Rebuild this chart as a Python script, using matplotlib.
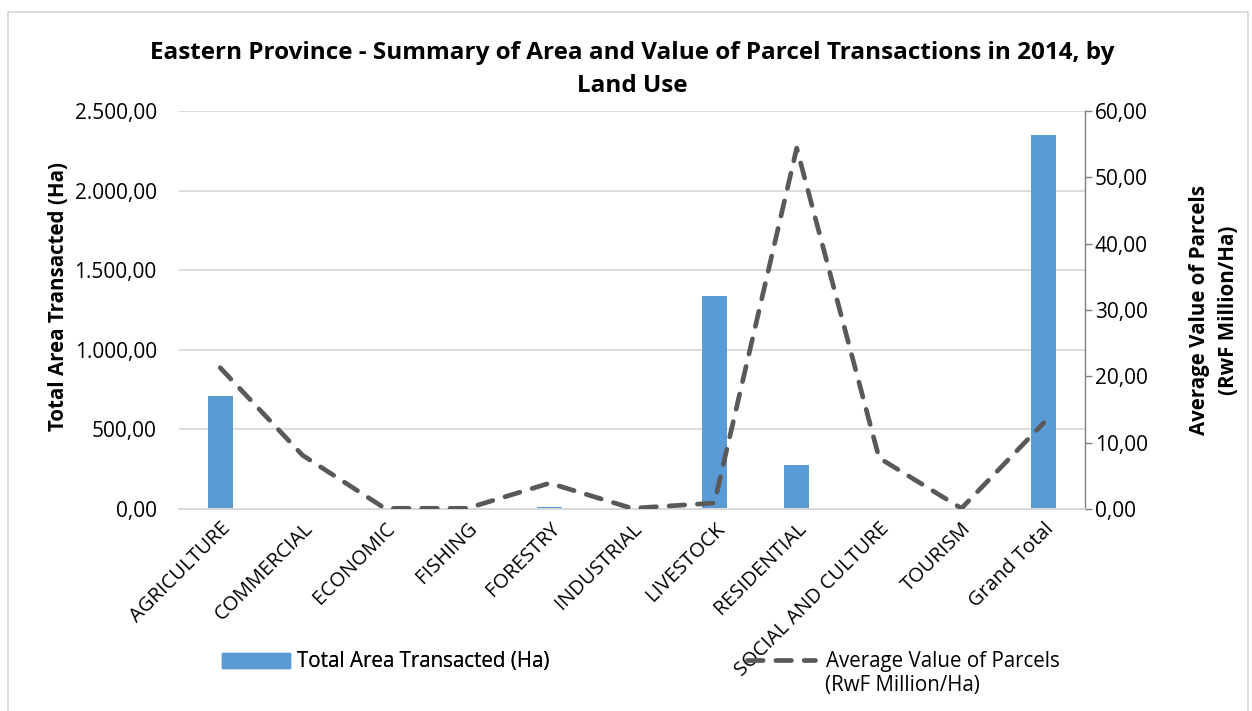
import matplotlib
matplotlib.use("Agg")
import matplotlib.pyplot as plt
from matplotlib.patches import Patch, Rectangle
from matplotlib.lines import Line2D
from matplotlib.ticker import FuncFormatter, MultipleLocator

plt.rcParams["font.family"] = ["Open Sans", "DejaVu Sans"]

categories = ["AGRICULTURE", "COMMERCIAL", "ECONOMIC", "FISHING", "FORESTRY",
              "INDUSTRIAL", "LIVESTOCK", "RESIDENTIAL", "SOCIAL AND CULTURE",
              "TOURISM", "Grand Total"]
area_ha = [710, 8, 0, 0, 15, 0, 1338, 276, 0, 0, 2352]
avg_value = [21.3, 8.1, 0.1, 0.1, 3.9, 0.1, 0.9, 54.4, 7.7, 0.1, 13.0]

bar_color = "#5B9BD5"
line_color = "#595959"
grid_color = "#D9D9D9"
dash = (0, (3.3, 2.7))


def euro_fmt(v, pos):
    s = f"{v:,.2f}"
    return s.replace(",", "X").replace(".", ",").replace("X", ".")


fig = plt.figure(figsize=(12.52, 7.11), dpi=100)
ax = fig.add_axes([179 / 1252, 1 - 509 / 711, 906 / 1252, 398 / 711])
ax2 = ax.twinx()

x = range(len(categories))
ax.bar(x, area_ha, width=0.30, color=bar_color, zorder=2)
ax2.plot(x, avg_value, color=line_color, lw=3.4, linestyle=dash,
         dash_capstyle="round", zorder=3)

ax.set_xlim(-0.5, len(categories) - 0.5)
ax.set_ylim(0, 2500)
ax2.set_ylim(0, 60)
ax.yaxis.set_major_locator(MultipleLocator(500))
ax2.yaxis.set_major_locator(MultipleLocator(10))
ax.yaxis.set_major_formatter(FuncFormatter(euro_fmt))
ax2.yaxis.set_major_formatter(FuncFormatter(euro_fmt))

ax.grid(axis="y", color=grid_color, lw=1.3, zorder=0)
ax.set_axisbelow(True)
for a in (ax, ax2):
    for side in ("top", "left", "right"):
        a.spines[side].set_visible(False)
    a.spines["bottom"].set_color(grid_color)
    a.spines["bottom"].set_linewidth(1.3)
ax2.spines["right"].set_visible(True)
ax2.spines["right"].set_color("#808080")
ax2.spines["right"].set_linewidth(1)

ax.tick_params(axis="y", length=0, labelsize=15, pad=16)
ax2.tick_params(axis="y", length=5, width=1, color="#808080", labelsize=15, pad=2)
ax.tick_params(axis="x", length=0, pad=7)

ax.set_xticks(list(x))
ax.set_xticklabels(categories, rotation=45, ha="right", va="top",
                   rotation_mode="anchor", fontsize=14.5)

ax.set_ylabel("Total Area Transacted (Ha)", fontsize=14.8, fontweight="bold")
ax.yaxis.set_label_coords(-0.121, 0.535)
ax2.set_ylabel("Average Value of Parcels\n(RwF Million/Ha)", fontsize=14.8,
               fontweight="bold", labelpad=30, linespacing=1.5)

fig.text(0.505, 1 - 53 / 711, "Eastern Province - Summary of Area and Value of Parcel Transactions in 2014, by",
         ha="center", va="center", fontsize=17.5, fontweight="bold")
fig.text(0.505, 1 - 86 / 711, "Land Use", ha="center", va="center",
         fontsize=17.5, fontweight="bold")

leg1 = fig.legend(handles=[Patch(color=bar_color, label="Total Area Transacted (Ha)")],
                  loc="center left", bbox_to_anchor=(222 / 1252, 1 - 662 / 711),
                  frameon=False, fontsize=14.8, handlelength=3.3, handleheight=0.7,
                  handletextpad=0.35, borderpad=0, borderaxespad=0)
leg2 = fig.legend(handles=[Line2D([0], [0], color=line_color, lw=3.4, linestyle=dash,
                                  dash_capstyle="round", label="Average Value of Parcels")],
                  loc="center left", bbox_to_anchor=(747 / 1252, 1 - 662 / 711),
                  frameon=False, fontsize=14.8, handlelength=3.3,
                  handletextpad=0.55, borderpad=0, borderaxespad=0)
fig.add_artist(leg1)
fig.text(825 / 1252, 1 - 686 / 711, "(RwF Million/Ha)", ha="left", va="center", fontsize=14.8)

fig.add_artist(Rectangle((8 / 1252, -0.05), 1240 / 1252, 1.05 - 12 / 711,
                         transform=fig.transFigure, fill=False,
                         edgecolor=grid_color, lw=1.3))

fig.savefig("out.png", dpi=100)
